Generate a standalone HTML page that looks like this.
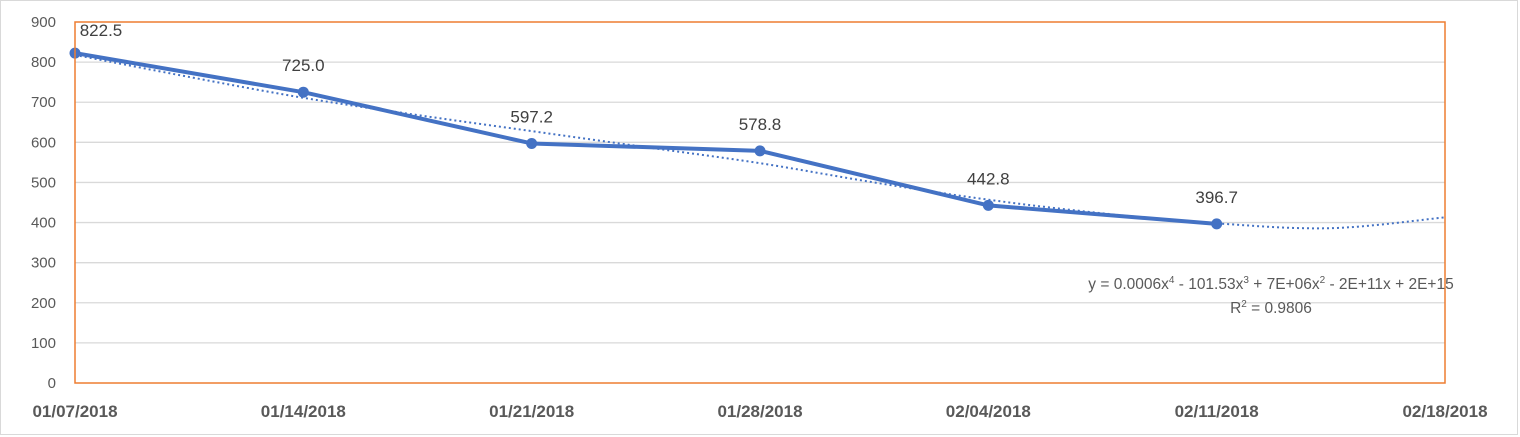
<!DOCTYPE html>
<html><head><meta charset="utf-8"><style>
html,body{margin:0;padding:0;background:#fff;}
svg{display:block;font-family:"Liberation Sans",sans-serif;}
</style></head><body>
<svg id="chart" width="1520" height="437" viewBox="0 0 1520 437">
<rect x="0.5" y="0.5" width="1517" height="434" fill="#fff" stroke="#d9d9d9"/>
<g id="grid"></g>
<g id="series"></g>
<g id="labels"></g>
<rect x="75" y="22" width="1370" height="361" fill="none" stroke="#ed7d31" stroke-width="1.5"/>
<text x="1271" y="289" text-anchor="middle" font-size="15.5" fill="#595959">y = 0.0006x<tspan dy="-6" font-size="10">4</tspan><tspan dy="6"> - 101.53x</tspan><tspan dy="-6" font-size="10">3</tspan><tspan dy="6"> + 7E+06x</tspan><tspan dy="-6" font-size="10">2</tspan><tspan dy="6"> - 2E+11x + 2E+15</tspan></text>
<text x="1271" y="313" text-anchor="middle" font-size="15.5" fill="#595959">R<tspan dy="-6" font-size="10">2</tspan><tspan dy="6"> = 0.9806</tspan></text>
</svg>
<script>
const categories=["01/07/2018","01/14/2018","01/21/2018","01/28/2018","02/04/2018","02/11/2018","02/18/2018"];
const values=[822.5,725.0,597.2,578.8,442.8,396.7];
const yTicks=[0,100,200,300,400,500,600,700,800,900];
const trendPos=[0,0.5,1,1.5,2,2.5,3,3.5,4,4.5,5,5.5,6];
const trendVals=[818,763,711,668,628,588,548,500,457,423,398,386,413];
const X0=75,X1=1445,Y0=383,Y1=22;
const NS="http://www.w3.org/2000/svg";
const x=i=>X0+(X1-X0)*i/(categories.length-1);
const y=v=>Y0-(Y0-Y1)*v/900;
function mk(t,a,p){const e=document.createElementNS(NS,t);for(const k in a)e.setAttribute(k,a[k]);p.appendChild(e);return e;}
const grid=document.getElementById('grid'),ser=document.getElementById('series'),lab=document.getElementById('labels');
yTicks.forEach(v=>{
 if(v>0&&v<900){const l=mk('line',{x1:X0,x2:X1,y1:y(v),y2:y(v),stroke:'#d9d9d9','stroke-width':1.3},grid);
 
 }
 const t=mk('text',{x:56,y:y(v)+5,'text-anchor':'end','font-size':15,fill:'#595959'},lab);t.textContent=v;
 
 
});
categories.forEach((c,i)=>{
 const t=mk('text',{x:x(i),y:417,'text-anchor':'middle','font-size':17,'font-weight':'bold',fill:'#595959'},lab);t.textContent=c;
 
 
});
let d='';values.forEach((v,i)=>d+=(i?'L':'M')+x(i)+','+y(v));
const ln=mk('path',{d:d,fill:'none',stroke:'#4472c4','stroke-width':4,'stroke-linejoin':'round'},ser);


const pts=trendPos.map((p,i)=>[x(p),y(trendVals[i])]);
let td='M'+pts[0];
for(let i=0;i<pts.length-1;i++){const p0=pts[i-1]||pts[i],p1=pts[i],p2=pts[i+1],p3=pts[i+2]||p2;
 td+='C'+(p1[0]+(p2[0]-p0[0])/6)+','+(p1[1]+(p2[1]-p0[1])/6)+' '+(p2[0]-(p3[0]-p1[0])/6)+','+(p2[1]-(p3[1]-p1[1])/6)+' '+p2[0]+','+p2[1];}
const tr=mk('path',{d:td,fill:'none',stroke:'#4472c4','stroke-width':2,'stroke-dasharray':'2 3'},ser);


values.forEach((v,i)=>{
 const c=mk('circle',{cx:x(i),cy:y(v),r:5.5,fill:'#4472c4'},ser);
 
 
 const t=mk('text',{x:i===0?x(i)+26:x(i),y:i===0?y(v)-17:y(v)-21,'text-anchor':'middle','font-size':17,fill:'#404040'},lab);t.textContent=v.toFixed(1);
 
 
});
</script>
</body></html>
